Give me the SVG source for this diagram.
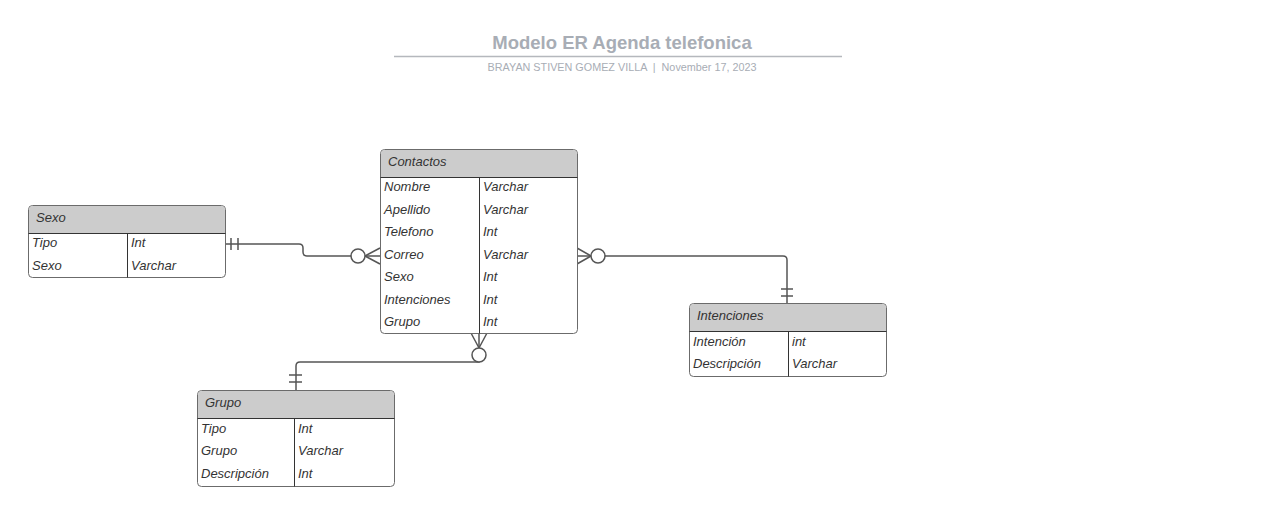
<svg xmlns="http://www.w3.org/2000/svg" width="1280" height="514" viewBox="0 0 1280 514">
<style>
.box{fill:#fff;stroke:#6b6b6b;stroke-width:1}
.hdr{fill:#cccccc;stroke:none}
.sep{stroke:#333;stroke-width:1}
.t{font-family:"Liberation Sans",Arial,sans-serif;font-style:italic;font-size:13px;fill:#333}
.c{fill:none;stroke:#555;stroke-width:1.5}
.ci{fill:#fff;stroke:#555;stroke-width:1.5}
.title{font-family:"Liberation Sans",Arial,sans-serif;font-weight:bold;font-size:18.5px;fill:#a8adb5}
.sub{font-family:"Liberation Sans",Arial,sans-serif;font-size:10.8px;fill:#a8adb5}
</style>
<rect width="1280" height="514" fill="#fff"/>
<g id="title">
<text class="title" x="622" y="49" text-anchor="middle">Modelo ER Agenda telefonica</text>
<line x1="394" y1="56.5" x2="842" y2="56.5" stroke="#b5b8bd" stroke-width="1.5"/>
<text class="sub" x="622" y="71" text-anchor="middle" xml:space="preserve">BRAYAN STIVEN GOMEZ VILLA  |  November 17, 2023</text>
</g>
<g id="connectors">
<path class="c" d="M225,244 H299 Q303,244 303,248 V252 Q303,256 307,256 H380"/>
<path class="c" d="M231,238 V250 M238,238 V250"/>
<path class="c" d="M365,256 L380,248 M365,256 L380,264"/>
<circle class="ci" cx="358" cy="256" r="7"/>
<path class="c" d="M577,256 H783 Q787,256 787,260 V303"/>
<path class="c" d="M591,256 L577,248 M591,256 L577,264"/>
<circle class="ci" cx="598" cy="256" r="7"/>
<path class="c" d="M781,289 H793 M781,296 H793"/>
<path class="c" d="M479,333 V362 H300 Q296,362 296,366 V390"/>
<path class="c" d="M479,348 L471,333 M479,348 L487,333"/>
<circle class="ci" cx="479" cy="355" r="7"/>
<path class="c" d="M289,375 H302 M289,382 H302"/>
</g>
<g id="sexo">
<rect class="box" x="28.5" y="205.5" width="197" height="72" rx="4"/>
<path class="hdr" d="M29,233 V210 Q29,206 33,206 H221 Q225,206 225,210 V233 Z"/>
<line class="sep" x1="28.5" y1="233.5" x2="225.5" y2="233.5"/>
<line class="sep" x1="127.5" y1="233.5" x2="127.5" y2="277.5"/>
<text class="t" x="36" y="222">Sexo</text>
<text class="t" x="32" y="247">Tipo</text><text class="t" x="131" y="247">Int</text>
<text class="t" x="32" y="270">Sexo</text><text class="t" x="131" y="270">Varchar</text>
</g>
<g id="contactos">
<rect class="box" x="380.5" y="149.5" width="197" height="184" rx="4"/>
<path class="hdr" d="M381,177 V154 Q381,150 385,150 H573 Q577,150 577,154 V177 Z"/>
<line class="sep" x1="380.5" y1="177.5" x2="577.5" y2="177.5"/>
<line class="sep" x1="479.5" y1="177.5" x2="479.5" y2="333.5"/>
<text class="t" x="388" y="166">Contactos</text>
<text class="t" x="384" y="191">Nombre</text><text class="t" x="483" y="191">Varchar</text>
<text class="t" x="384" y="214">Apellido</text><text class="t" x="483" y="214">Varchar</text>
<text class="t" x="384" y="236">Telefono</text><text class="t" x="483" y="236">Int</text>
<text class="t" x="384" y="259">Correo</text><text class="t" x="483" y="259">Varchar</text>
<text class="t" x="384" y="281">Sexo</text><text class="t" x="483" y="281">Int</text>
<text class="t" x="384" y="304">Intenciones</text><text class="t" x="483" y="304">Int</text>
<text class="t" x="384" y="326">Grupo</text><text class="t" x="483" y="326">Int</text>
</g>
<g id="intenciones">
<rect class="box" x="689.5" y="303.5" width="197" height="73" rx="4"/>
<path class="hdr" d="M690,331 V308 Q690,304 694,304 H882 Q886,304 886,308 V331 Z"/>
<line class="sep" x1="689.5" y1="331.5" x2="886.5" y2="331.5"/>
<line class="sep" x1="788.5" y1="331.5" x2="788.5" y2="376.5"/>
<text class="t" x="697" y="320">Intenciones</text>
<text class="t" x="693" y="346">Intención</text><text class="t" x="792" y="346">int</text>
<text class="t" x="693" y="368">Descripción</text><text class="t" x="792" y="368">Varchar</text>
</g>
<g id="grupo">
<rect class="box" x="197.5" y="390.5" width="197" height="96" rx="4"/>
<path class="hdr" d="M198,418 V395 Q198,391 202,391 H390 Q394,391 394,395 V418 Z"/>
<line class="sep" x1="197.5" y1="418.5" x2="394.5" y2="418.5"/>
<line class="sep" x1="294.5" y1="418.5" x2="294.5" y2="486.5"/>
<text class="t" x="205" y="407">Grupo</text>
<text class="t" x="201" y="433">Tipo</text><text class="t" x="298" y="433">Int</text>
<text class="t" x="201" y="455">Grupo</text><text class="t" x="298" y="455">Varchar</text>
<text class="t" x="201" y="478">Descripción</text><text class="t" x="298" y="478">Int</text>
</g>
</svg>
